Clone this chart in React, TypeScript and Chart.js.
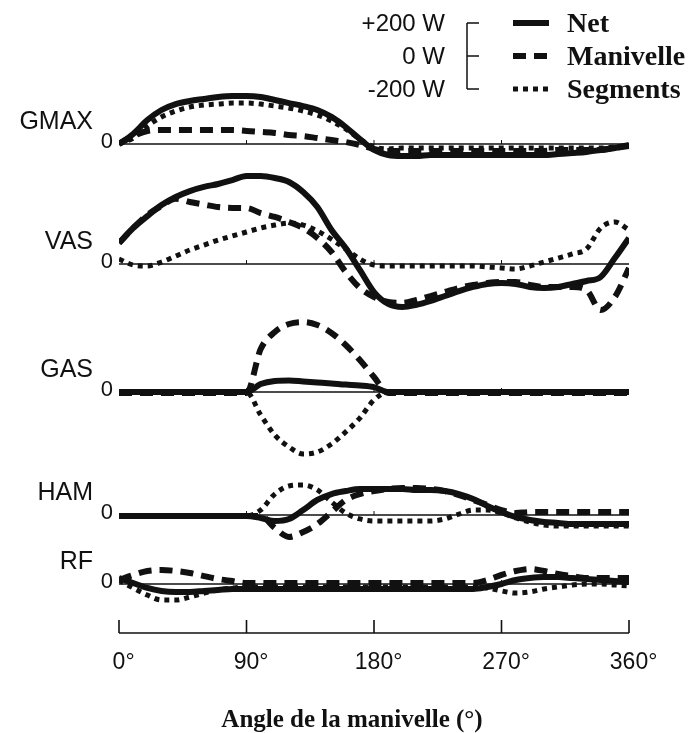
import React, { useEffect, useRef } from "react";
import { Chart, registerables } from "chart.js";

Chart.register(...registerables);

// Crank angle samples (degrees), shared by every curve.
const ANGLES = [
  0, 10, 20, 30, 40, 50, 60, 70, 80, 90, 100, 110, 120, 130, 140, 150, 160, 170, 180,
  190, 200, 210, 220, 230, 240, 250, 260, 270, 280, 290, 300, 310, 320, 330, 340, 350, 360,
];

const X_TICKS = [0, 90, 180, 270, 360];
const PANEL_NAMES = ["GMAX", "VAS", "GAS", "HAM", "RF"];
const SERIES_NAMES = ["Net", "Manivelle", "Segments"];
const SCALE_BAR = [200, 0, -200];
const AXIS_TITLE = "Angle de la manivelle (°)";

// Muscle power (W) over one crank cycle.
const GMAX_NET = [0, 61, 145, 206, 242, 261, 273, 285, 291, 291, 285, 267, 248, 230, 206, 164, 103, 30, -36, -67, -73, -73, -67, -67, -67, -67, -67, -67, -67, -67, -67, -61, -55, -48, -36, -24, -6];
const GMAX_MANIVELLE = [0, 48, 79, 85, 85, 85, 85, 85, 85, 79, 73, 67, 55, 48, 36, 24, 12, -6, -30, -42, -42, -42, -42, -42, -42, -42, -42, -42, -42, -42, -42, -36, -36, -36, -36, -24, -12];
const GMAX_SEGMENTS = [0, 36, 109, 164, 200, 224, 236, 242, 248, 248, 242, 230, 218, 200, 176, 139, 91, 30, -18, -30, -24, -24, -24, -24, -24, -24, -24, -24, -24, -24, -24, -24, -24, -24, -24, -18, -12];

const VAS_NET = [127, 218, 290, 357, 406, 442, 467, 485, 509, 533, 533, 521, 497, 436, 345, 206, 97, -36, -170, -242, -261, -248, -224, -194, -164, -139, -121, -115, -121, -139, -145, -139, -121, -103, -79, 36, 158];
const VAS_MANIVELLE = [127, 218, 297, 351, 395, 376, 360, 345, 340, 339, 309, 285, 255, 218, 158, 73, -48, -145, -200, -230, -236, -218, -194, -170, -145, -127, -115, -109, -109, -127, -139, -139, -139, -158, -279, -200, -24];
const VAS_SEGMENTS = [30, -6, -12, 12, 48, 85, 115, 145, 170, 194, 218, 236, 248, 236, 200, 150, 91, 30, -6, -12, -12, -12, -12, -12, -12, -12, -18, -24, -30, -12, 12, 36, 61, 91, 218, 255, 206];

const GAS_NET = [0, 0, 0, 0, 0, 0, 0, 0, 0, 0, 48, 67, 70, 64, 58, 52, 45, 40, 30, 0, 0, 0, 0, 0, 0, 0, 0, 0, 0, 0, 0, 0, 0, 0, 0, 0, 0];
const GAS_MANIVELLE = [-6, -6, -6, -6, -6, -6, -6, -6, -6, -6, 260, 364, 412, 424, 406, 358, 285, 194, 91, -6, -6, -6, -6, -6, -6, -6, -6, -6, -6, -6, -6, -6, -6, -6, -6, -6, -6];
const GAS_SEGMENTS = [0, 0, 0, 0, 0, 0, 0, 0, 0, 0, -139, -261, -333, -376, -364, -315, -242, -158, -48, 0, 0, 0, 0, 0, 0, 0, 0, 0, 0, 0, 0, 0, 0, 0, 0, 0, 0];

const HAM_NET = [-6, -6, -6, -6, -6, -6, -6, -6, -6, -6, -18, -36, -24, 30, 91, 127, 145, 158, 158, 158, 158, 152, 152, 145, 127, 97, 55, 18, -12, -30, -42, -48, -55, -55, -55, -55, -55];
const HAM_MANIVELLE = [-6, -6, -6, -6, -6, -6, -6, -6, -6, -6, -6, -79, -133, -103, -55, 18, 91, 127, 145, 158, 164, 164, 158, 145, 121, 91, 61, 30, 12, 18, 18, 18, 18, 18, 18, 18, 18];
const HAM_SEGMENTS = [-6, -6, -6, -6, -6, -6, -6, -6, -6, -6, 30, 127, 176, 182, 152, 79, 12, -24, -36, -36, -36, -36, -36, -24, 6, 30, 30, 12, -18, -42, -61, -67, -67, -67, -67, -67, -67];

const RF_NET = [36, 6, -24, -42, -48, -48, -42, -36, -30, -30, -30, -30, -30, -30, -30, -30, -30, -30, -30, -30, -30, -30, -30, -30, -30, -30, -18, 0, 24, 36, 42, 42, 36, 30, 24, 18, 12];
const RF_MANIVELLE = [24, 55, 79, 85, 79, 67, 48, 30, 18, 6, 6, 6, 6, 6, 6, 6, 6, 6, 6, 6, 6, 6, 6, 6, 6, 6, 24, 55, 79, 91, 79, 61, 48, 36, 36, 36, 36];
const RF_SEGMENTS = [24, -24, -67, -97, -97, -79, -55, -36, -24, -18, -18, -18, -18, -18, -18, -18, -18, -18, -18, -18, -18, -18, -18, -18, -18, -18, -24, -42, -55, -48, -30, -18, -6, 0, 0, -6, -12];

const PANEL_SERIES = [
  [GMAX_NET, GMAX_MANIVELLE, GMAX_SEGMENTS],
  [VAS_NET, VAS_MANIVELLE, VAS_SEGMENTS],
  [GAS_NET, GAS_MANIVELLE, GAS_SEGMENTS],
  [HAM_NET, HAM_MANIVELLE, HAM_SEGMENTS],
  [RF_NET, RF_MANIVELLE, RF_SEGMENTS],
];

// Layout (canvas pixels)
const WIDTH = 700;
const HEIGHT = 733;
const PLOT_LEFT = 119;
const PLOT_RIGHT = 629;
const AXIS_Y = 633;
const PANEL_ZERO_Y = [144, 264, 392, 515, 584];
const W_PER_PX = 200 / 33;
const LEGEND_ZERO_Y = 56;

const SANS = '"Liberation Sans", Arial, Helvetica, sans-serif';
const SERIF = '"Liberation Serif", "Times New Roman", serif';
const INK = "#111";

const LINE_STYLES = [
  { width: 6, dash: [] as number[] },
  { width: 6, dash: [13, 8] },
  { width: 5, dash: [5, 5] },
];

const panelOffset = (i: number) => (AXIS_Y - PANEL_ZERO_Y[i]) * W_PER_PX;

const decorPlugin = {
  id: "panelDecor",
  afterDraw(chart: any) {
    const ctx: CanvasRenderingContext2D = chart.ctx;
    const xs = chart.scales.x;
    const ys = chart.scales.y;
    const x0 = xs.getPixelForValue(0);
    const x1 = xs.getPixelForValue(360);
    const axisY = ys.getPixelForValue(0);

    ctx.save();
    ctx.strokeStyle = INK;
    ctx.fillStyle = INK;
    ctx.setLineDash([]);

    // x axis with upward ticks
    ctx.lineWidth = 1.6;
    ctx.beginPath();
    ctx.moveTo(x0, axisY);
    ctx.lineTo(x1, axisY);
    X_TICKS.forEach((t) => {
      const px = xs.getPixelForValue(t);
      ctx.moveTo(px, axisY);
      ctx.lineTo(px, axisY - 13);
    });
    ctx.stroke();

    ctx.font = `23px ${SANS}`;
    ctx.textAlign = "left";
    ctx.textBaseline = "alphabetic";
    X_TICKS.forEach((t) => {
      const px = xs.getPixelForValue(t);
      const num = String(t);
      const w = ctx.measureText(num).width;
      ctx.fillText(num + "°", px - w / 2, axisY + 36);
    });

    // small marks on each zero line
    ctx.lineWidth = 1;
    PANEL_NAMES.forEach((_, i) => {
      const zy = ys.getPixelForValue(panelOffset(i));
      ctx.beginPath();
      [90, 180, 270].forEach((t) => {
        const px = xs.getPixelForValue(t);
        ctx.moveTo(px, zy);
        ctx.lineTo(px, zy - 4);
      });
      ctx.stroke();
    });

    // panel names and zero labels
    ctx.textBaseline = "middle";
    PANEL_NAMES.forEach((name, i) => {
      const zy = ys.getPixelForValue(panelOffset(i));
      ctx.textAlign = "right";
      ctx.font = `25px ${SANS}`;
      ctx.fillText(name, 93, zy - 22);
      ctx.font = `22px ${SANS}`;
      ctx.fillText("0", 113, zy - 2);
    });

    // power scale bar
    const legendZero = ys.getValueForPixel(LEGEND_ZERO_Y);
    const barYs = SCALE_BAR.map((v) => ys.getPixelForValue(legendZero + v));
    ctx.lineWidth = 1.5;
    ctx.beginPath();
    ctx.moveTo(467, barYs[0]);
    ctx.lineTo(467, barYs[barYs.length - 1]);
    barYs.forEach((y) => {
      ctx.moveTo(467, y);
      ctx.lineTo(479, y);
    });
    ctx.stroke();
    ctx.font = `24px ${SANS}`;
    ctx.textAlign = "right";
    ctx.textBaseline = "middle";
    SCALE_BAR.forEach((v, k) => {
      const label = (v > 0 ? "+" : "") + v + " W";
      ctx.fillText(label, 445, barYs[k] + 1);
    });

    // line-style key
    SERIES_NAMES.forEach((name, k) => {
      const st = LINE_STYLES[k];
      const y = barYs[k];
      ctx.lineWidth = st.width;
      ctx.setLineDash(st.dash);
      ctx.lineCap = "butt";
      ctx.beginPath();
      ctx.moveTo(513, y);
      ctx.lineTo(549, y);
      ctx.stroke();
      ctx.setLineDash([]);
      ctx.font = `bold 28px ${SERIF}`;
      ctx.textAlign = "left";
      ctx.textBaseline = "alphabetic";
      ctx.fillText(name, 567, y + 9);
    });

    // axis title
    ctx.font = `bold 25px ${SERIF}`;
    ctx.textAlign = "center";
    ctx.textBaseline = "alphabetic";
    ctx.fillText(AXIS_TITLE, 352, 727);

    ctx.restore();
  },
};

export default function App() {
  const canvasRef = useRef<HTMLCanvasElement | null>(null);

  useEffect(() => {
    const canvas = canvasRef.current;
    if (!canvas) return;

    const datasets: any[] = [];
    PANEL_SERIES.forEach((series, i) => {
      const off = panelOffset(i);
      datasets.push({
        label: PANEL_NAMES[i] + " 0",
        data: [
          { x: 0, y: off },
          { x: 360, y: off },
        ],
        borderColor: INK,
        borderWidth: 1.4,
        pointRadius: 0,
        order: 10,
      });
      series.forEach((values, k) => {
        const st = LINE_STYLES[k];
        datasets.push({
          label: PANEL_NAMES[i] + " " + SERIES_NAMES[k],
          data: values.map((v, j) => ({ x: ANGLES[j], y: off + v })),
          borderColor: INK,
          borderWidth: st.width,
          borderDash: st.dash,
          borderCapStyle: "butt",
          borderJoinStyle: "round",
          cubicInterpolationMode: "monotone",
          pointRadius: 0,
          order: 3 - k,
        });
      });
    });

    const chart = new Chart(canvas, {
      type: "line",
      data: { datasets },
      options: {
        animation: false,
        responsive: false,
        events: [],
        layout: {
          padding: {
            left: PLOT_LEFT,
            right: WIDTH - PLOT_RIGHT,
            top: 0,
            bottom: HEIGHT - AXIS_Y,
          },
        },
        scales: {
          x: { type: "linear", min: 0, max: 360, display: false },
          y: { type: "linear", min: 0, max: AXIS_Y * W_PER_PX, display: false },
        },
        plugins: {
          legend: { display: false },
          tooltip: { enabled: false },
          title: { display: false },
        },
      },
      plugins: [decorPlugin],
    });

    return () => chart.destroy();
  }, []);

  return (
    <div
      style={{
        position: "absolute",
        left: 0,
        top: 0,
        width: WIDTH,
        height: HEIGHT,
        background: "#fff",
      }}
    >
      <canvas ref={canvasRef} width={WIDTH} height={HEIGHT} style={{ display: "block" }} />
    </div>
  );
}
